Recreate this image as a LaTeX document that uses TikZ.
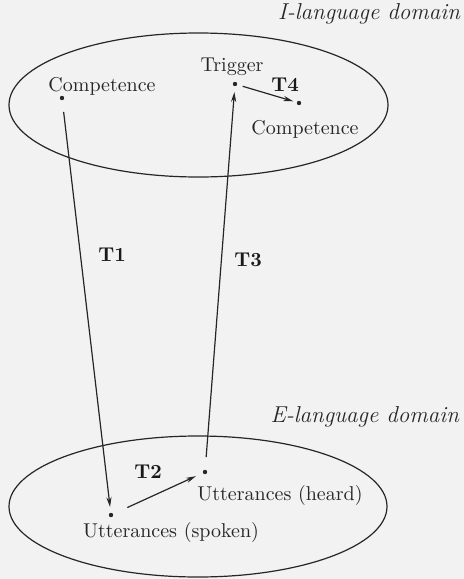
\documentclass[tikz,border=0pt]{standalone}
\usetikzlibrary{arrows.meta, positioning}
\begin{document}
\begin{tikzpicture}[x=0.5pt, y=-0.5pt,
  dot/.style={circle, fill=black!85, inner sep=0pt, minimum size=2.2pt},
  lbl/.style={text=black!85},
  tlbl/.style={text=black!90, font=\bfseries},
  arr/.style={-{Stealth[length=5pt,width=2.6pt]}, line width=0.6pt, draw=black!85},
  domlbl/.style={text=black!85, anchor=east, font=\fontsize{11.5}{14}\selectfont\itshape}]
  \useasboundingbox[fill=black!5] (0,0) rectangle (464,579);

  % I-language domain
  \draw[line width=0.6pt, black!85] (198.5,105) ellipse [x radius=189.5, y radius=72];
  \node[domlbl] (ilang) at (467,14) {I-language domain};
  \node[dot] (compA) at (62,98) {};
  \node[lbl] (compAlbl) at (102,86) {Competence};
  \node[dot] (trig) at (235,84) {};
  \node[lbl] (triglbl) at (232,67) {Trigger};
  \node[dot] (compB) at (299,103) {};
  \node[lbl] (compBlbl) at (305,129) {Competence};

  % E-language domain
  \draw[line width=0.6pt, black!85] (198,506.5) ellipse [x radius=189, y radius=70.5];
  \node[domlbl] (elang) at (466,417) {E-language domain};
  \node[dot] (spoken) at (111,515) {};
  \node[lbl] (spokenlbl) at (171,532) {Utterances (spoken)};
  \node[dot] (heard) at (205,472) {};
  \node[lbl] (heardlbl) at (280,495) {Utterances (heard)};

  % transitions
  \draw[arr, shorten <=7pt, shorten >=4pt] (compA.center) -- (spoken.center);
  \draw[arr, shorten <=9pt, shorten >=5pt] (spoken.center) -- (heard.center);
  \draw[arr, shorten <=7.5pt, shorten >=4pt] (heard.center) -- (trig.center);
  \draw[arr, shorten <=4pt, shorten >=3pt] (trig.center) -- (compB.center);
  \node[tlbl] (t1) at (112,255) {T1};
  \node[tlbl] (t2) at (148,472) {T2};
  \node[tlbl] (t3) at (248,260) {T3};
  \node[tlbl] (t4) at (285,85) {T4};
\end{tikzpicture}
\end{document}
